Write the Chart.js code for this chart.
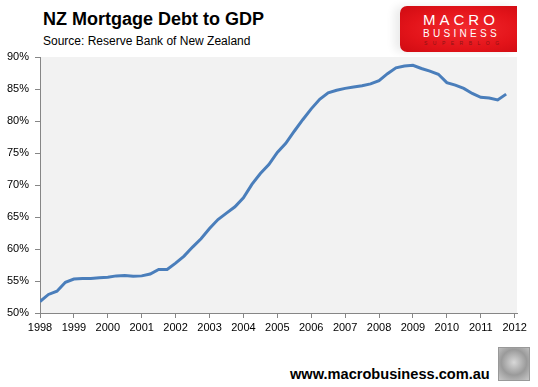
<!DOCTYPE html>
<html>
<head>
<meta charset="utf-8">
<script src="https://cdn.jsdelivr.net/npm/chart.js@4"></script>
<style>
  body { margin: 0; background: #fff; font-family: "Liberation Sans", Arial, sans-serif; }
  .wrap { position: relative; width: 538px; height: 387px; overflow: hidden; }
  .title { position: absolute; left: 43px; top: 9px; font-size: 18px; font-weight: bold; color: #000; white-space: nowrap; }
  .source { position: absolute; left: 43px; top: 34px; font-size: 12px; color: #000; white-space: nowrap; }
  .logo { position: absolute; left: 400px; top: 6px; width: 117px; height: 46px; border-radius: 7px 0 0 7px;
    background: radial-gradient(ellipse at 55% 50%, #f3292e 0%, #e3141a 60%, #cf0b12 100%);
    box-shadow: -6px 0 8px rgba(0,0,0,0.08); }
  .logo span { position: absolute; white-space: nowrap; }
  .logo .m { left: 23px; top: 5px; font-size: 15px; letter-spacing: 4px; color: #fff; }
  .logo .b { left: 23px; top: 22px; font-size: 10px; letter-spacing: 3.3px; color: #fff; }
  .logo .s { left: 24px; top: 34px; font-size: 5px; letter-spacing: 5.5px; color: #8a1414; }
  .url { position: absolute; left: 290px; top: 366px; font-size: 14.6px; font-weight: bold; color: #000; white-space: nowrap; }
  .wolf { position: absolute; left: 498px; top: 347px; width: 30px; height: 32px; border: 1px solid #999;
    background: radial-gradient(circle at 50% 45%, #d8d8d8 0%, #9a9a9a 55%, #c8c8c8 100%); }
  #chart { position: absolute; left: 0; top: 0; }
</style>
</head>
<body>
<div class="wrap">
  <div class="title">NZ Mortgage Debt to GDP</div>
  <div class="source">Source: Reserve Bank of New Zealand</div>
  <div class="logo">
    <span class="m">MACRO</span>
    <span class="b">BUSINESS</span>
    <span class="s">SUPERBLOG</span>
  </div>
  <canvas id="chart" width="538" height="340"></canvas>
  <div class="url">www.macrobusiness.com.au</div>
  <div class="wolf"></div>
</div>
<script>
// === Data (quarterly) ===
const quarters = [
  "1998 Q1", "1998 Q2", "1998 Q3", "1998 Q4",
  "1999 Q1", "1999 Q2", "1999 Q3", "1999 Q4",
  "2000 Q1", "2000 Q2", "2000 Q3", "2000 Q4",
  "2001 Q1", "2001 Q2", "2001 Q3", "2001 Q4",
  "2002 Q1", "2002 Q2", "2002 Q3", "2002 Q4",
  "2003 Q1", "2003 Q2", "2003 Q3", "2003 Q4",
  "2004 Q1", "2004 Q2", "2004 Q3", "2004 Q4",
  "2005 Q1", "2005 Q2", "2005 Q3", "2005 Q4",
  "2006 Q1", "2006 Q2", "2006 Q3", "2006 Q4",
  "2007 Q1", "2007 Q2", "2007 Q3", "2007 Q4",
  "2008 Q1", "2008 Q2", "2008 Q3", "2008 Q4",
  "2009 Q1", "2009 Q2", "2009 Q3", "2009 Q4",
  "2010 Q1", "2010 Q2", "2010 Q3", "2010 Q4",
  "2011 Q1", "2011 Q2", "2011 Q3", "2011 Q4",
];
const debtToGdp = [
  51.8, 52.9, 53.4, 54.8,
  55.3, 55.4, 55.4, 55.5,
  55.6, 55.8, 55.85, 55.75,
  55.8, 56.1, 56.8, 56.8,
  57.8, 58.9, 60.3, 61.6,
  63.2, 64.6, 65.6, 66.6,
  68.0, 70.1, 71.8, 73.2,
  75.1, 76.5, 78.4, 80.2,
  81.9, 83.4, 84.4, 84.8,
  85.1, 85.3, 85.5, 85.8,
  86.3, 87.4, 88.3, 88.6,
  88.7, 88.2, 87.8, 87.3,
  86.0, 85.6, 85.1, 84.3,
  83.7, 83.6, 83.3, 84.2,
];
const yearTicks = [1998, 1999, 2000, 2001, 2002, 2003, 2004, 2005, 2006, 2007, 2008, 2009, 2010, 2011, 2012];
const percentTicks = [50, 55, 60, 65, 70, 75, 80, 85, 90];

// quarter label -> decimal year for the linear x axis
function quarterToYear(label) {
  const parts = label.split(" Q");
  return parseInt(parts[0]) + (parseInt(parts[1]) - 1) / 4;
}

const points = quarters.map((q, i) => ({ x: quarterToYear(q), y: debtToGdp[i] }));

// === Plot area background ===
const plotBackground = {
  id: "plotBackground",
  beforeDraw(chart) {
    const a = chart.chartArea;
    const ctx = chart.ctx;
    ctx.save();
    ctx.fillStyle = "#f2f2f2";
    ctx.fillRect(a.left, a.top, a.right - a.left, a.bottom - a.top);
    ctx.restore();
  },
};

const axisGrey = "#868686";
const tickFont = { family: "'Liberation Sans', Arial, sans-serif", size: 11 };

new Chart(document.getElementById("chart"), {
  type: "line",
  data: {
    datasets: [
      {
        label: "NZ Mortgage Debt to GDP",
        data: points,
        borderColor: "#4a7ebb",
        borderWidth: 3,
        pointRadius: 0,
        tension: 0,
        fill: false,
      },
    ],
  },
  options: {
    responsive: false,
    animation: false,
    layout: { padding: { top: 57, right: 21, left: 0, bottom: 0 } },
    plugins: { legend: { display: false }, tooltip: { enabled: false } },
    scales: {
      x: {
        type: "linear",
        min: yearTicks[0],
        max: yearTicks[yearTicks.length - 1] + 0.07,
        afterBuildTicks: (scale) => {
          scale.ticks = yearTicks.map((v) => ({ value: v }));
        },
        afterFit: (scale) => {
          scale.height = 27;
        },
        ticks: {
          includeBounds: false,
          autoSkip: false,
          maxRotation: 0,
          padding: 3,
          color: "#000",
          font: tickFont,
          callback: (v) => String(v),
        },
        grid: { drawOnChartArea: false, tickLength: 5, tickColor: axisGrey },
        border: { color: axisGrey, width: 1 },
      },
      y: {
        min: percentTicks[0],
        max: percentTicks[percentTicks.length - 1],
        afterBuildTicks: (scale) => {
          scale.ticks = percentTicks.map((v) => ({ value: v }));
        },
        afterFit: (scale) => {
          scale.width = 40;
        },
        ticks: {
          padding: 6,
          color: "#000",
          font: tickFont,
          callback: (v) => v + "%",
        },
        grid: { drawOnChartArea: false, tickLength: 5, tickColor: axisGrey },
        border: { color: axisGrey, width: 1 },
      },
    },
  },
  plugins: [plotBackground],
});
</script>
</body>
</html>
